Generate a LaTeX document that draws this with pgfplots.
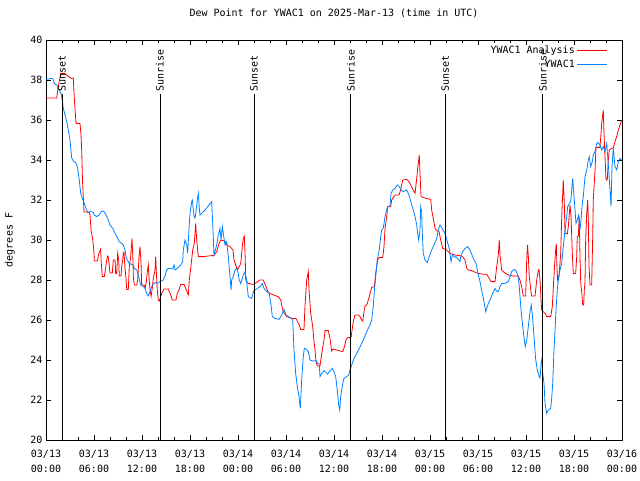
\documentclass[border=0pt]{standalone}
\usepackage{fontspec}
\setmainfont{DejaVu Sans Mono}
\usepackage{pgfplots}
\usepackage{pgfplotstable}
\pgfplotsset{compat=1.18}

\definecolor{anared}{RGB}{255,0,0}
\definecolor{obsblue}{RGB}{0,128,255}

% hours after 2025-03-13 00:00 UTC, dew point in F
\pgfplotstableread{
h v
0.00 37.1
1.34 37.1
1.50 37.6
1.84 38.33
2.38 38.33
2.79 38.17
3.21 38.08
3.41 38.1
3.54 37.08
3.75 35.83
4.25 35.83
4.38 35.25
4.46 34.5
4.56 33.0
4.66 32.17
4.75 31.4
5.38 31.4
5.50 31.25
5.63 30.5
5.84 30.03
6.00 29.33
6.04 28.95
6.41 28.95
6.63 29.35
6.84 29.55
6.88 29.0
7.04 28.17
7.29 28.17
7.46 28.63
7.59 29.0
7.71 29.2
7.79 29.15
8.00 28.35
8.29 28.35
8.41 29.0
8.63 29.0
8.71 28.33
8.84 28.33
8.96 29.33
9.09 29.0
9.16 28.2
9.38 28.2
9.46 28.67
9.59 29.0
9.66 29.33
9.75 29.4
9.88 28.58
10.00 28.1
10.09 27.53
10.29 27.53
10.41 28.67
10.59 29.17
10.75 30.08
10.88 28.9
10.91 28.17
11.04 27.75
11.34 27.75
11.46 28.0
11.63 29.17
11.75 29.67
11.88 28.83
11.96 27.75
12.25 27.75
12.38 27.6
12.54 27.9
12.66 28.4
12.79 28.75
12.88 28.1
13.00 27.53
13.13 27.17
13.29 27.6
13.41 28.08
13.63 28.5
13.71 29.17
13.81 28.25
13.91 27.5
14.04 27.0
14.16 26.95
14.46 27.33
14.75 27.55
15.29 27.55
15.59 27.25
15.79 27.0
16.25 27.0
16.41 27.33
16.63 27.5
16.84 27.78
17.25 27.78
17.46 27.58
17.79 27.25
17.91 28.0
18.09 28.58
18.34 29.5
18.54 29.83
18.71 30.83
18.84 30.0
19.04 29.17
19.66 29.17
20.29 29.2
21.00 29.23
21.34 29.42
21.63 29.83
21.84 30.0
22.38 29.95
22.59 29.75
23.00 29.67
23.38 29.5
23.50 29.0
23.75 28.7
23.96 28.53
24.13 28.65
24.34 28.83
24.54 29.67
24.66 30.08
24.79 30.2
24.91 29.0
24.96 28.0
25.29 27.83
25.91 27.78
26.38 27.9
26.75 28.0
27.16 28.0
27.50 27.67
27.79 27.37
28.29 27.28
28.63 27.22
29.04 27.17
29.34 27.0
29.46 26.75
29.66 26.42
30.09 26.17
30.71 26.08
31.25 26.08
31.66 25.75
31.84 25.53
32.25 25.53
32.38 26.75
32.59 28.0
32.69 28.2
32.79 28.42
32.88 27.5
33.09 26.33
33.34 25.67
33.50 24.92
33.63 24.5
33.75 23.92
33.91 23.7
34.25 23.7
34.38 24.08
34.54 24.5
34.75 25.0
34.88 25.47
35.29 25.47
35.50 25.08
35.71 24.45
35.91 24.55
36.34 24.5
37.09 24.42
37.25 24.58
37.50 25.0
37.71 25.13
38.13 25.13
38.41 25.92
38.63 26.25
39.04 26.25
39.25 26.17
39.46 26.0
39.59 25.95
39.75 26.42
39.88 26.7
40.09 26.75
40.29 27.0
40.50 27.3
40.71 27.63
41.04 27.67
41.21 28.33
41.46 29.0
41.66 29.13
42.09 29.13
42.25 29.67
42.38 30.58
42.59 31.17
42.71 31.67
43.09 31.67
43.21 32.0
43.63 32.25
44.13 32.25
44.34 32.53
44.59 33.0
45.09 33.03
45.29 32.95
45.59 32.75
45.91 32.5
46.13 32.33
46.34 33.08
46.46 33.58
46.59 34.0
46.66 34.25
46.75 33.33
46.88 32.17
47.50 32.08
48.09 32.03
48.21 31.5
48.41 31.08
48.63 30.58
48.84 30.47
49.13 30.42
49.34 30.0
49.59 29.58
50.00 29.53
50.50 29.33
51.13 29.25
51.96 29.2
52.38 29.0
52.59 28.58
52.79 28.5
53.21 28.47
53.84 28.35
54.46 28.3
55.09 28.28
55.41 28.08
55.63 27.92
56.13 27.92
56.34 28.67
56.54 29.25
56.66 30.0
56.75 29.25
56.96 28.5
57.29 28.37
57.79 28.25
58.41 28.2
59.04 28.2
59.25 28.0
59.46 27.67
59.66 27.2
59.96 27.2
60.09 29.0
60.19 29.75
60.29 29.2
60.41 28.17
60.69 27.2
61.13 27.2
61.34 28.0
61.54 28.5
61.63 28.53
61.75 28.0
61.88 27.0
61.96 26.5
62.38 26.33
62.59 26.17
63.09 26.17
63.29 26.67
63.41 27.58
63.54 28.5
63.71 29.53
63.79 29.8
63.88 28.5
63.96 28.0
64.13 28.2
64.34 29.33
64.46 31.08
64.59 32.33
64.66 33.0
64.79 31.83
64.88 30.33
65.16 30.3
65.29 30.67
65.50 31.75
65.63 31.17
65.79 29.33
65.91 28.33
66.21 28.33
66.34 29.17
66.41 30.17
66.54 30.2
66.66 31.17
66.75 29.17
66.84 27.87
66.96 27.42
67.09 26.75
67.21 26.75
67.29 27.5
67.38 27.92
67.46 30.0
67.59 31.33
67.71 32.0
67.79 31.0
67.88 28.67
68.00 27.75
68.21 27.75
68.34 30.17
68.41 32.0
68.63 33.5
68.75 34.63
69.25 34.63
69.38 35.33
69.46 35.83
69.59 36.25
69.66 36.5
69.75 35.33
69.88 34.17
70.00 33.0
70.16 33.0
70.29 34.0
70.41 34.5
70.71 34.58
70.91 34.6
71.13 34.92
71.34 35.17
71.54 35.5
71.75 35.75
71.96 36.0
}\analysis

\pgfplotstableread{
h v
0.00 38.03
0.71 38.08
0.88 38.05
1.04 37.83
1.34 37.75
1.54 37.58
1.88 37.33
2.04 37.0
2.16 36.58
2.38 36.25
2.59 35.92
2.79 35.5
3.00 35.0
3.21 34.1
3.41 33.95
3.75 33.85
3.94 33.6
4.16 33.0
4.34 32.33
4.54 32.08
4.79 31.83
5.00 31.58
5.21 31.38
5.59 31.42
5.88 31.4
6.04 31.25
6.34 31.17
6.63 31.25
6.96 31.45
7.25 31.42
7.50 31.25
7.79 31.0
8.00 30.75
8.34 30.58
8.63 30.33
8.91 30.13
9.16 29.92
9.46 29.83
9.66 29.75
9.88 29.5
10.00 29.17
10.16 29.0
10.41 28.83
10.71 28.78
10.91 28.75
11.04 28.58
11.34 28.5
11.54 28.25
11.75 27.87
11.88 27.75
12.16 27.67
12.38 27.58
12.59 27.33
12.79 27.2
13.00 27.42
13.21 27.67
13.41 27.8
13.63 27.87
13.91 27.83
14.25 27.92
14.66 28.0
14.88 28.2
15.09 28.5
15.29 28.58
15.50 28.58
15.84 28.55
16.00 28.75
16.13 28.5
16.31 28.55
16.63 28.67
16.84 28.75
17.09 28.92
17.16 29.5
17.38 30.0
17.59 29.75
17.71 29.33
17.88 30.6
18.00 31.3
18.21 31.92
18.29 32.0
18.50 31.2
18.63 31.1
18.75 31.4
18.91 32.0
19.04 32.33
19.16 31.6
19.25 31.25
19.46 31.33
19.88 31.5
20.29 31.7
20.71 31.92
20.84 30.83
21.00 29.25
21.34 29.75
21.54 30.25
21.75 30.58
21.88 30.0
22.04 30.67
22.25 30.08
22.38 29.75
22.59 29.9
22.79 29.17
23.00 28.17
23.13 27.5
23.21 28.0
23.41 28.17
23.63 28.5
23.84 28.58
24.00 28.4
24.16 28.0
24.34 27.83
24.66 28.25
24.88 28.42
25.06 28.0
25.29 27.17
25.71 27.08
26.00 27.5
26.34 27.55
26.75 27.67
27.04 27.83
27.25 27.58
27.59 27.42
27.91 27.33
28.13 26.75
28.29 26.17
28.63 26.08
29.13 26.03
29.46 26.25
29.75 26.53
30.00 26.25
30.29 26.17
30.71 26.08
30.84 26.0
31.00 24.5
31.21 23.33
31.41 22.67
31.63 22.17
31.79 21.58
31.96 23.0
32.16 24.17
32.29 24.58
32.50 24.55
32.79 24.42
33.00 24.0
33.34 23.95
33.75 23.97
33.96 23.83
34.16 23.8
34.25 23.17
34.46 23.33
34.75 23.47
34.96 23.4
35.21 23.3
35.50 23.47
35.79 23.58
36.00 23.42
36.21 23.17
36.41 22.5
36.59 21.75
36.71 21.5
36.84 22.17
37.09 22.83
37.25 23.08
37.59 23.17
37.84 23.25
38.00 23.5
38.21 23.75
38.50 24.08
38.84 24.33
39.16 24.58
39.46 24.83
39.75 25.08
40.00 25.33
40.29 25.58
40.50 25.75
40.71 26.0
40.91 26.67
41.04 27.42
41.25 28.33
41.41 29.0
41.66 29.5
41.84 30.17
41.96 30.5
42.16 30.58
42.38 31.17
42.59 31.5
42.71 31.67
43.00 31.7
43.13 32.33
43.34 32.5
43.63 32.58
43.91 32.75
44.16 32.67
44.38 32.5
44.66 32.42
45.09 32.5
45.29 32.33
45.50 32.08
45.71 31.75
45.91 31.5
46.13 31.17
46.34 30.75
46.46 30.33
46.59 30.0
46.75 30.5
46.84 31.67
46.96 31.42
47.04 30.33
47.16 29.33
47.38 29.0
47.66 28.87
47.91 29.17
48.21 29.5
48.50 29.75
48.84 30.08
49.04 30.5
49.25 30.75
49.46 30.63
49.75 30.42
50.00 30.17
50.16 29.92
50.41 29.58
50.63 28.92
50.79 29.25
51.13 29.13
51.25 29.17
51.54 29.03
51.75 28.92
51.84 29.17
52.09 29.42
52.38 29.58
52.71 29.67
53.00 29.5
53.21 29.3
53.41 29.08
53.75 28.83
53.96 28.42
54.25 27.92
54.54 27.33
54.75 26.92
54.96 26.42
55.09 26.58
55.29 26.83
55.59 27.08
55.84 27.33
56.13 27.58
56.31 27.45
56.54 27.42
56.75 27.67
56.96 27.83
57.38 27.83
57.79 27.92
58.00 28.17
58.21 28.42
58.50 28.53
58.75 28.47
58.96 28.25
59.13 27.83
59.25 27.17
59.38 26.5
59.59 25.67
59.79 25.0
59.91 24.67
60.09 25.0
60.29 25.67
60.50 26.4
60.66 26.75
60.81 26.2
61.00 25.17
61.19 24.1
61.41 23.5
61.66 23.17
61.75 23.1
61.90 23.9
62.00 24.08
62.09 23.33
62.25 22.83
62.38 21.83
62.59 21.33
62.79 21.5
63.09 21.58
63.21 22.08
63.34 22.83
63.50 24.5
63.63 25.5
63.75 26.5
63.91 27.5
64.04 28.0
64.25 28.5
64.46 28.83
64.66 29.67
64.88 30.5
65.09 31.17
65.21 31.67
65.41 31.83
65.59 31.92
65.71 32.5
65.84 33.08
65.91 32.67
66.13 31.5
66.25 30.83
66.41 31.0
66.59 31.25
66.75 30.5
66.88 31.0
67.00 31.67
67.16 32.17
67.38 33.17
67.59 33.5
67.79 34.0
67.91 34.17
68.09 33.67
68.29 33.92
68.41 34.25
68.63 34.42
68.84 34.83
69.04 34.87
69.25 34.75
69.46 34.5
69.66 34.67
69.88 34.42
70.09 34.83
70.21 34.17
70.34 33.5
70.50 32.5
70.63 31.67
70.75 33.67
70.91 34.58
71.13 33.67
71.34 33.5
71.54 33.92
71.75 34.08
71.96 34.0
}\observed

\begin{document}
\begin{tikzpicture}[font=\fontsize{10}{14}\selectfont]
\useasboundingbox (-46pt,-40pt) rectangle (594pt,440pt);
\begin{axis}[
    scale only axis,
    width=576pt, height=400pt,
    xmin=0, xmax=72, ymin=20, ymax=40,
    xtick={0,6,...,72},
    minor x tick num=2,
    xticklabels={{03/13\\00:00},{03/13\\06:00},{03/13\\12:00},{03/13\\18:00},
        {03/14\\00:00},{03/14\\06:00},{03/14\\12:00},{03/14\\18:00},
        {03/15\\00:00},{03/15\\06:00},{03/15\\12:00},{03/15\\18:00},{03/16\\00:00}},
    xticklabel style={align=center, font=\fontsize{10}{15}\selectfont, yshift=-7pt},
    ytick={20,22,...,40},
    /pgf/number format/assume math mode=true,
    tick align=inside,
    major tick length=5pt, minor tick length=3pt,
    every tick/.style={black, line width=0.7pt},
    axis line style={line width=0.7pt},
    title={Dew Point for YWAC1 on 2025-Mar-13 (time in UTC)},
    title style={at={(axis description cs:0.5,1)}, anchor=center, yshift=21pt},
    ylabel={degrees F},
    ylabel style={at={(axis description cs:-0.0625,0.5)}, anchor=center},
    legend style={draw=none, fill=none, at={(axis description cs:1,1)},
        anchor=north east, xshift=-11pt, yshift=-2pt, row sep=1pt},
    legend plot pos=right,
    legend cell align=right,
    legend image code/.code={\draw[#1, line width=1pt] (0pt,0pt) -- (30pt,0pt);},
]
\addplot[anared, line width=0.8pt] table[x=h, y=v] {\analysis};
\addlegendentry{YWAC1 Analysis}
\addplot[obsblue, line width=0.8pt] table[x=h, y=v] {\observed};
\addlegendentry{YWAC1}

\addplot[black, line width=0.8pt, forget plot] coordinates {(2.00,20) (2.00,37.3)};
\addplot[black, line width=0.8pt, forget plot] coordinates {(14.25,20) (14.25,37.3)};
\addplot[black, line width=0.8pt, forget plot] coordinates {(26.00,20) (26.00,37.3)};
\addplot[black, line width=0.8pt, forget plot] coordinates {(38.10,20) (38.10,37.3)};
\addplot[black, line width=0.8pt, forget plot] coordinates {(49.90,20) (49.90,37.3)};
\addplot[black, line width=0.8pt, forget plot] coordinates {(62.10,20) (62.10,37.3)};
\node[rotate=90, anchor=west, inner sep=1pt] at (axis cs:2.00,37.35) {Sunset};
\node[rotate=90, anchor=west, inner sep=1pt] at (axis cs:14.25,37.35) {Sunrise};
\node[rotate=90, anchor=west, inner sep=1pt] at (axis cs:26.00,37.35) {Sunset};
\node[rotate=90, anchor=west, inner sep=1pt] at (axis cs:38.10,37.35) {Sunrise};
\node[rotate=90, anchor=west, inner sep=1pt] at (axis cs:49.90,37.35) {Sunset};
\node[rotate=90, anchor=west, inner sep=1pt] at (axis cs:62.10,37.35) {Sunrise};
\end{axis}
\end{tikzpicture}
\end{document}
